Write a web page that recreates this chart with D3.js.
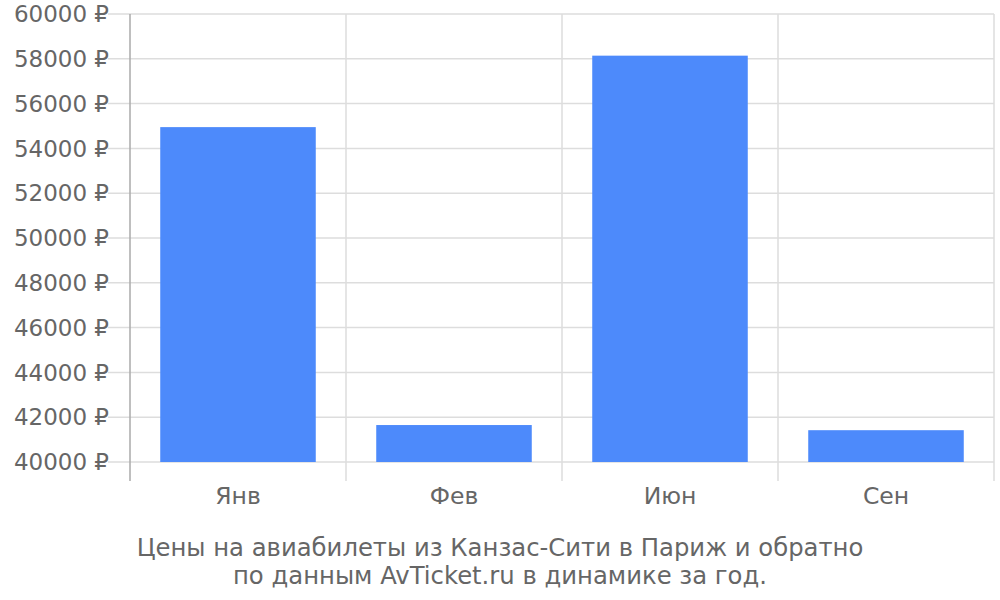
<!DOCTYPE html>
<html><head><meta charset="utf-8">
<script src="https://cdnjs.cloudflare.com/ajax/libs/d3/7.8.5/d3.min.js"></script>
<style>body{margin:0;background:#fff;}svg{display:block;font-family:"DejaVu Sans",sans-serif;}</style>
</head><body>
<svg id="c" width="1000" height="600"></svg>
<script>
const categories = ["Янв", "Фев", "Июн", "Сен"];
const prices = [54950, 41650, 58140, 41420];
const yTicks = [40000, 42000, 44000, 46000, 48000, 50000, 52000, 54000, 56000, 58000, 60000];
const titleLines = ["Цены на авиабилеты из Канзас-Сити в Париж и обратно", "по данным AvTicket.ru в динамике за год."];

(function () {
const svg = d3.select("#c");
const pL = 130, pR = 994, pT = 14, pB = 462;
const x = d3.scaleBand().domain(categories).range([pL, pR]).padding(0);
const y = d3.scaleLinear().domain([40000, 60000]).range([pB, pT]);
const textColor = "#666";
const gridColor = "#ddd";

// horizontal grid
svg.append("g").selectAll("line").data(yTicks).join("line")
  .attr("x1", pL - 22).attr("x2", pR)
  .attr("y1", d => y(d)).attr("y2", d => y(d))
  .attr("stroke", gridColor).attr("stroke-width", 1.5);

// vertical grid at band boundaries
const bounds = categories.map(c => x(c)).concat([pR]);
svg.append("g").selectAll("line").data(bounds).join("line")
  .attr("x1", d => d).attr("x2", d => d)
  .attr("y1", pT).attr("y2", pB + 19)
  .attr("stroke", (d, i) => i === 0 ? "#aaa" : gridColor).attr("stroke-width", 1.5);

// y labels
svg.append("g").selectAll("text").data(yTicks).join("text")
  .attr("x", pL - 21).attr("y", d => y(d)).attr("dy", "0.36em")
  .attr("text-anchor", "end").attr("fill", textColor).attr("font-size", 23)
  .text(d => d + " ₽");

// bars
const bw = x.bandwidth() * 0.72;
svg.append("g").selectAll("rect").data(prices).join("rect")
  .attr("x", (d, i) => x(categories[i]) + (x.bandwidth() - bw) / 2)
  .attr("width", bw)
  .attr("y", d => y(d)).attr("height", d => y(40000) - y(d))
  .attr("fill", "#4d8afb");

// x labels
svg.append("g").selectAll("text").data(categories).join("text")
  .attr("x", d => x(d) + x.bandwidth() / 2).attr("y", 504)
  .attr("text-anchor", "middle").attr("fill", textColor).attr("font-size", 23.5)
  .text(d => d);

// title
svg.append("g").selectAll("text").data(titleLines).join("text")
  .attr("x", 500).attr("y", (d, i) => 556 + i * 28)
  .attr("text-anchor", "middle").attr("fill", textColor).attr("font-size", 24.3)
  .text(d => d);
})();
</script>
</body></html>
